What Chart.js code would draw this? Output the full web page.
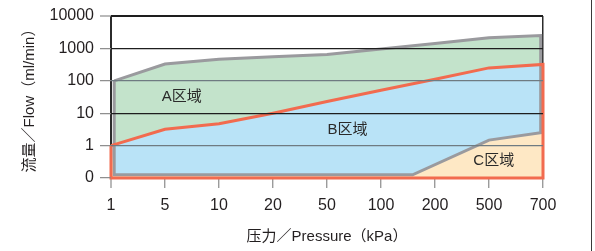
<!DOCTYPE html>
<html><head><meta charset="utf-8">
<script src="https://cdn.jsdelivr.net/npm/chart.js@4/dist/chart.umd.min.js"></script>
<style>
html,body{margin:0;padding:0;background:#fff;}
#wrap{position:relative;width:595px;height:251px;overflow:hidden;}
#edge{position:absolute;left:591px;top:0;width:1px;height:251px;background:#3a3a3a;}
</style>
</head><body>
<div id="wrap"><canvas id="c" width="595" height="251"></canvas><div id="edge"></div></div>
<script>
// ---- data ----
const pressureTicks = [1, 5, 10, 20, 50, 100, 200, 500, 700];      // kPa
const flowTicks = [0, 1, 10, 100, 1000, 10000];                     // ml/min
// grey boundary (A + B regions)
const greyUpperP = [1.1, 5, 10, 20, 50, 100, 200, 500, 690];
const greyUpperF = [100, 330, 460, 550, 650, 960, 1410, 2140, 2500];
const greyLowerP = [690, 500, 150, 1.1];
const greyLowerF = [2.5, 1.48, 0.1, 0.1];
// red boundary (B + C regions)
const redUpperP = [1, 5, 10, 20, 50, 100, 200, 500, 700];
const redUpperF = [1, 3.2, 4.7, 10, 23, 51, 112, 250, 320];
const redLowerP = [700, 1];
const redLowerF = [0, 0];
// region names and their anchor (pressure, flow)
const regionNames = ['A区域', 'B区域', 'C区域'];
const regionP = [6.2, 65, 515];
const regionF = [32, 3.0, 0.52];

const FONT = '"Liberation Sans", Arial, "Noto Sans CJK SC", sans-serif';
const TXT = '#231f20';

// axis transforms (the chart's axes are evenly spaced tick categories)
function px(p) {
  for (let i = 0; i < pressureTicks.length - 1; i++) {
    const a = pressureTicks[i], b = pressureTicks[i + 1];
    if (p <= b || i === pressureTicks.length - 2) return i + Math.log(p / a) / Math.log(b / a);
  }
}
function fy(f) { return f <= 1 ? f : 1 + Math.log10(f); }
function pts(P, F) { return P.map((p, i) => ({ x: px(p), y: fy(F[i]) })); }
function closed(a) { return a.concat([a[0]]); }

const greyPoly = closed(pts(greyUpperP, greyUpperF).concat(pts(greyLowerP, greyLowerF)));
const redPoly = closed(pts(redUpperP, redUpperF).concat(pts(redLowerP, redLowerF)));
const bluePoly = closed(pts(redUpperP, redUpperF).concat(pts(greyLowerP, greyLowerF)));

const base = { pointRadius: 0, pointHoverRadius: 0, tension: 0, clip: false };
const NONE = 'rgba(0,0,0,0)';
const LAST_X = pressureTicks.length - 1;

const regionLabels = {
  id: 'regionLabels',
  afterDatasetsDraw(chart) {
    const { ctx, scales: { x, y } } = chart;
    ctx.save();
    ctx.font = '15px ' + FONT;
    ctx.fillStyle = '#2a2a2a';
    ctx.textAlign = 'center';
    ctx.textBaseline = 'middle';
    regionNames.forEach((t, i) => {
      ctx.fillText(t, x.getPixelForValue(px(regionP[i])), y.getPixelForValue(fy(regionF[i])));
    });
    ctx.restore();
  }
};

new Chart(document.getElementById('c'), {
  type: 'line',
  data: {
    datasets: [
      Object.assign({}, base, { data: redPoly, borderColor: '#f26b4f', borderWidth: 3, fill: false, order: 0, borderJoinStyle: 'miter' }),
      Object.assign({}, base, { data: greyPoly, borderColor: '#9a9a9e', borderWidth: 3, fill: false, order: 1, borderJoinStyle: 'miter' }),
      Object.assign({}, base, { data: bluePoly, borderColor: NONE, borderWidth: 0, backgroundColor: '#b9e3f7', fill: 'shape', order: 2 }),
      Object.assign({}, base, { data: greyPoly, borderColor: NONE, borderWidth: 0, backgroundColor: '#c3e3cb', fill: 'shape', order: 3 }),
      Object.assign({}, base, { data: redPoly, borderColor: NONE, borderWidth: 0, backgroundColor: '#fee8c5', fill: 'shape', order: 4 })
    ]
  },
  options: {
    responsive: false,
    devicePixelRatio: 1,
    animation: false,
    events: [],
    layout: { padding: { left: 21, right: 52, top: 16, bottom: 5 } },
    plugins: { legend: { display: false }, tooltip: { enabled: false } },
    scales: {
      x: {
        type: 'linear', min: 0, max: LAST_X,
        afterBuildTicks: s => { s.ticks = pressureTicks.map((_, i) => ({ value: i })); },
        afterFit: s => { s.height = 68; },
        ticks: { callback: v => pressureTicks[v], font: { family: FONT, size: 16 }, color: TXT, padding: 8, maxRotation: 0, autoSkip: false },
        grid: {
          color: c => (c.tick && (c.tick.value === LAST_X || c.tick.value === 0)) ? '#2b2b2b' : NONE,
          lineWidth: c => (c.tick && c.tick.value === 0) ? 2 : 1.5,
          tickColor: '#8a8a8a', tickLength: 10, tickWidth: 1.2
        },
        border: { display: false },
        title: { display: true, text: '压力／Pressure（kPa）', font: { family: FONT, size: 15 }, color: TXT, padding: 0 }
      },
      y: {
        type: 'linear', min: 0, max: flowTicks.length - 1,
        afterBuildTicks: s => { s.ticks = flowTicks.map((_, i) => ({ value: i })); },
        afterFit: s => { s.width = 90; },
        ticks: { callback: v => flowTicks[v], font: { family: FONT, size: 16 }, color: TXT, padding: 6 },
        grid: {
          z: 1,
          color: c => {
            const v = c.tick ? c.tick.value : -1;
            if (v === 0) return NONE;
            if (v === 1 || v === 3) return '#6f7b82';
            return '#1e1e1e';
          },
          lineWidth: c => (c.tick && c.tick.value === flowTicks.length - 1) ? 2 : 1.3,
          tickColor: '#8a8a8a', tickLength: 11, tickWidth: 1.2
        },
        border: { display: false },
        title: { display: true, text: '流量／Flow（ml/min）', font: { family: FONT, size: 15 }, color: TXT, padding: 0 }
      }
    }
  },
  plugins: [regionLabels]
});
</script>
</body></html>
